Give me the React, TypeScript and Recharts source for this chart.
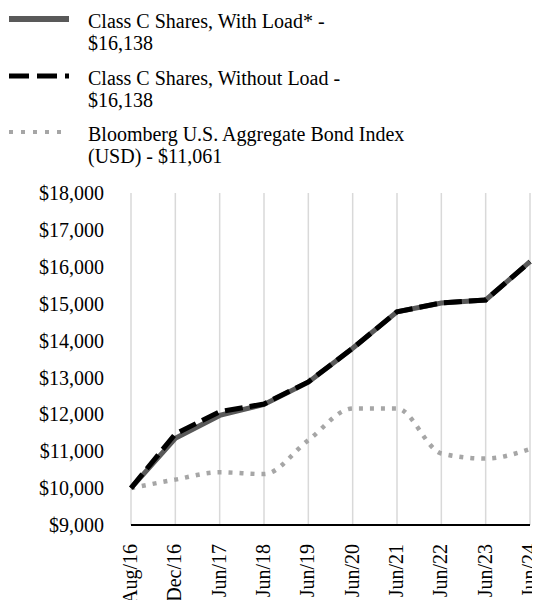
import { LineChart, Line, XAxis, YAxis, CartesianGrid } from 'recharts';

const labels = ['Aug/16', 'Dec/16', 'Jun/17', 'Jun/18', 'Jun/19', 'Jun/20', 'Jun/21', 'Jun/22', 'Jun/23', 'Jun/24'];
const withLoad = [10000, 11350, 11970, 12270, 12870, 13790, 14780, 15020, 15100, 16138];
const withoutLoad = [10000, 11470, 12070, 12280, 12880, 13790, 14780, 15020, 15100, 16138];
const bondIndex = [10000, 10230, 10430, 10380, 11300, 12160, 12160, 10940, 10800, 11061];
const yTicks = [9000, 10000, 11000, 12000, 13000, 14000, 15000, 16000, 17000, 18000];

const FONT = '"Liberation Serif", "Times New Roman", serif';

const data = labels.map((label, i) => ({
  label,
  withLoad: withLoad[i],
  withoutLoad: withoutLoad[i],
  bondIndex: bondIndex[i],
}));

const legendItems = [
  { lines: ['Class C Shares, With Load* -', '$16,138'], stroke: '#595959', width: 6, dash: undefined },
  { lines: ['Class C Shares, Without Load -', '$16,138'], stroke: '#000000', width: 5, dash: '20 8' },
  { lines: ['Bloomberg U.S. Aggregate Bond Index', '(USD) - $11,061'], stroke: '#a6a6a6', width: 4, dash: '4 8' },
];

const fmt = (v: number) => '$' + v.toLocaleString('en-US');

function XTick(props: any) {
  const { x, y, payload } = props;
  const ty = y + 19;
  return (
    <text
      x={x}
      y={ty}
      dy="0.3em"
      transform={`rotate(-90, ${x}, ${ty})`}
      textAnchor="end"
      fill="#000"
      fontSize={20}
      fontFamily={FONT}
    >
      {payload.value}
    </text>
  );
}

export default function App() {
  return (
    <div style={{ position: 'relative', width: 532, height: 592, fontFamily: FONT, background: '#fff' }}>
      <style>{'body { overflow: hidden; } .recharts-surface { overflow: visible; }'}</style>
      {legendItems.map((item, i) => (
        <div key={i} style={{ position: 'absolute', left: 0, top: 2 + i * 56.5, width: 532 }}>
          <svg width={62} height={10} style={{ position: 'absolute', left: 1, top: 4 }}>
            <line x1={0} y1={5} x2={60} y2={5} stroke={item.stroke} strokeWidth={item.width} strokeDasharray={item.dash} />
          </svg>
          <div style={{ position: 'absolute', left: 80, top: 0, fontSize: 20, lineHeight: '22px', color: '#000' }}>
            {item.lines.map((l, j) => (
              <div key={j}>{l}</div>
            ))}
          </div>
        </div>
      ))}
      <LineChart
        width={532}
        height={592}
        data={data}
        margin={{ top: 185, right: 10, left: 0, bottom: 0 }}
        style={{ position: 'absolute', left: 0, top: 0, overflow: 'visible' }}
      >
        <CartesianGrid horizontal={false} stroke="#d9d9d9" strokeWidth={1.5} />
        <XAxis
          dataKey="label"
          interval={0}
          height={75}
          tickLine={false}
          tickSize={0}
          tickMargin={0}
          axisLine={{ stroke: '#000', strokeWidth: 2 }}
          tick={<XTick />}
        />
        <YAxis
          width={123}
          domain={[9000, 18000]}
          ticks={yTicks}
          interval={0}
          tickFormatter={fmt}
          axisLine={false}
          tickLine={false}
          tickSize={0}
          tickMargin={27}
          tick={{ fill: '#000', fontSize: 20, fontFamily: FONT }}
        />
        <Line
          type="monotone"
          dataKey="bondIndex"
          stroke="#a6a6a6"
          strokeWidth={4.5}
          strokeDasharray="4 7"
          dot={false}
          isAnimationActive={false}
        />
        <Line
          type="linear"
          dataKey="withLoad"
          stroke="#595959"
          strokeWidth={5}
          dot={false}
          isAnimationActive={false}
        />
        <Line
          type="linear"
          dataKey="withoutLoad"
          stroke="#000000"
          strokeWidth={5}
          strokeDasharray="18 7"
          dot={false}
          isAnimationActive={false}
        />
      </LineChart>
    </div>
  );
}
